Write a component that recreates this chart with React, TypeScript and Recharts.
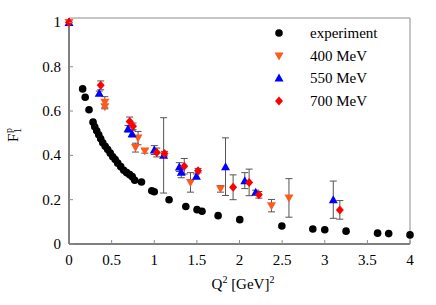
import React from 'react';
import { ScatterChart, Scatter, XAxis, YAxis, ErrorBar, Legend } from 'recharts';

// ---- data ----
const expQ2 = [0.16, 0.19, 0.235, 0.282, 0.302, 0.325, 0.349, 0.372, 0.396, 0.425, 0.454, 0.484, 0.513, 0.542, 0.572, 0.607, 0.642, 0.677, 0.712, 0.742, 0.771, 0.85, 0.971, 1.0, 1.174, 1.37, 1.502, 1.56, 1.749, 2.003, 2.497, 2.86, 3.0, 3.25, 3.62, 3.75, 4.0];
const expF = [0.70, 0.662, 0.606, 0.550, 0.529, 0.511, 0.493, 0.475, 0.457, 0.441, 0.426, 0.410, 0.394, 0.381, 0.365, 0.349, 0.333, 0.322, 0.313, 0.304, 0.288, 0.280, 0.240, 0.236, 0.200, 0.169, 0.155, 0.148, 0.128, 0.110, 0.081, 0.068, 0.064, 0.058, 0.049, 0.047, 0.041];

const q400 = [0, 0.42, 0.42, 0.81, 0.78, 0.89, 1.425, 1.777, 2.375, 2.58];
const f400 = [1.0, 0.64, 0.62, 0.478, 0.435, 0.42, 0.278, 0.249, 0.173, 0.208];
const e400 = [0, 0.025, 0.01, 0.03, 0.02, 0.01, 0.044, 0.015, 0.028, 0.087];

const q550 = [0, 0.355, 0.693, 0.74, 1.0, 1.11, 1.294, 1.317, 1.495, 1.836, 2.062, 2.19, 3.10];
const f550 = [1.0, 0.68, 0.52, 0.498, 0.424, 0.40, 0.347, 0.324, 0.306, 0.349, 0.286, 0.233, 0.20];
const e550 = [0, 0.01, 0.015, 0.015, 0.02, 0.17, 0.02, 0.025, 0.01, 0.13, 0.036, 0.01, 0.084];

const q700 = [0, 0.372, 0.712, 0.751, 1.03, 1.12, 1.352, 1.514, 1.925, 2.113, 2.227, 3.177];
const f700 = [1.0, 0.716, 0.553, 0.531, 0.413, 0.408, 0.351, 0.331, 0.256, 0.278, 0.222, 0.154];
const e700 = [0, 0.02, 0.02, 0.015, 0.02, 0.01, 0.035, 0.01, 0.056, 0.06, 0.015, 0.042];

const seriesNames = ['experiment', '400 MeV', '550 MeV', '700 MeV'];
const xTicks = [0, 0.5, 1, 1.5, 2, 2.5, 3, 3.5, 4];
const xTickLabels = ['0', '0.5', '1', '1.5', '2', '2.5', '3', '3.5', '4'];
const yTicks = [0, 0.2, 0.4, 0.6, 0.8, 1];
const yTickLabels = ['0', '0.2', '0.4', '0.6', '0.8', '1'];

const expData = expQ2.map((x, i) => ({ x, y: expF[i] }));
const d400 = q400.map((x, i) => ({ x, y: f400[i], e: e400[i] }));
const d550 = q550.map((x, i) => ({ x, y: f550[i], e: e550[i] }));
const d700 = q700.map((x, i) => ({ x, y: f700[i], e: e700[i] }));

const FONT = '"Liberation Serif", "DejaVu Serif", serif';
const C_EXP = '#000000';
const C_400 = '#ff5a1e';
const C_550 = '#0000ff';
const C_700 = '#ff0000';
const GRAY = '#8c8c8c';

const circleShape = (p: any) => <circle cx={p.cx} cy={p.cy} r={3.8} fill={C_EXP} />;
const downTri = (p: any, c = C_400) => (
  <polygon points={`${p.cx - 4.5},${p.cy - 3.5} ${p.cx + 4.5},${p.cy - 3.5} ${p.cx},${p.cy + 4.5}`} fill={c} />
);
const upTri = (p: any, c = C_550) => (
  <polygon points={`${p.cx - 4.5},${p.cy + 3.5} ${p.cx + 4.5},${p.cy + 3.5} ${p.cx},${p.cy - 4.5}`} fill={c} />
);
const diamond = (p: any, c = C_700) => (
  <polygon points={`${p.cx},${p.cy - 4.5} ${p.cx + 4},${p.cy} ${p.cx},${p.cy + 4.5} ${p.cx - 4},${p.cy}`} fill={c} />
);

const BottomTick = (p: any) => {
  const i = xTicks.indexOf(p.payload.value);
  return (
    <g>
      <line x1={p.x} y1={p.y} x2={p.x} y2={p.y - 4} stroke={GRAY} />
      <text x={p.x} y={p.y + 21} textAnchor="middle" fontFamily={FONT} fontSize={15} fill="#000">
        {xTickLabels[i]}
      </text>
    </g>
  );
};
const TopTick = (p: any) => <line x1={p.x} y1={p.y} x2={p.x} y2={p.y + 4} stroke={GRAY} />;
const LeftTick = (p: any) => {
  const i = yTicks.indexOf(p.payload.value);
  return (
    <g>
      <line x1={p.x} y1={p.y} x2={p.x + 4} y2={p.y} stroke={GRAY} />
      <text x={p.x - 8} y={p.y + 5} textAnchor="end" fontFamily={FONT} fontSize={15} fill="#000">
        {yTickLabels[i]}
      </text>
    </g>
  );
};
const RightTick = (p: any) => <line x1={p.x} y1={p.y} x2={p.x - 4} y2={p.y} stroke={GRAY} />;

const legendShapes = [
  (cx: number, cy: number) => <circle cx={cx} cy={cy} r={3.8} fill={C_EXP} />,
  (cx: number, cy: number) => downTri({ cx, cy }),
  (cx: number, cy: number) => upTri({ cx, cy }),
  (cx: number, cy: number) => diamond({ cx, cy }),
];

const LegendContent = () => (
  <div style={{ fontFamily: FONT, fontSize: 15, color: '#000' }}>
    {seriesNames.map((n, i) => (
      <div key={n} style={{ display: 'flex', alignItems: 'center', height: 22.5 }}>
        <svg width={18} height={18} style={{ display: 'block' }}>
          {legendShapes[i](9, 9)}
        </svg>
        <span style={{ marginLeft: 22, lineHeight: '22.5px', whiteSpace: 'nowrap' }}>{n}</span>
      </div>
    ))}
  </div>
);

export default function App() {
  return (
    <div style={{ position: 'absolute', left: 0, top: 0, width: 436, height: 305, background: '#fff' }}>
      <ScatterChart width={436} height={305} margin={{ top: 12, right: 20, bottom: 31, left: 29 }}>
        <XAxis
          dataKey="x"
          type="number"
          domain={[0, 4]}
          ticks={xTicks}
          interval={0}
          height={30}
          tickSize={0}
          tickMargin={0}
          tick={BottomTick}
          tickLine={false}
          axisLine={{ stroke: '#000' }}
        />
        <XAxis
          xAxisId="top"
          orientation="top"
          type="number"
          domain={[0, 4]}
          ticks={xTicks}
          interval={0}
          height={6}
          tickSize={0}
          tickMargin={0}
          tick={TopTick}
          tickLine={false}
          axisLine={{ stroke: GRAY }}
        />
        <YAxis
          dataKey="y"
          type="number"
          domain={[0, 1.02]}
          ticks={yTicks}
          interval={0}
          width={40}
          tickSize={0}
          tickMargin={0}
          tick={LeftTick}
          tickLine={false}
          axisLine={{ stroke: '#000' }}
        />
        <YAxis
          yAxisId="right"
          orientation="right"
          type="number"
          domain={[0, 1.02]}
          ticks={yTicks}
          interval={0}
          width={6}
          tickSize={0}
          tickMargin={0}
          tick={RightTick}
          tickLine={false}
          axisLine={{ stroke: GRAY }}
        />
        <Legend
          layout="vertical"
          align="center"
          verticalAlign="middle"
          content={LegendContent}
          wrapperStyle={{ left: 270, top: 22, width: 150 }}
        />
        <Scatter name="experiment" data={expData} shape={circleShape} isAnimationActive={false} />
        <Scatter name="400 MeV" data={d400} shape={(p: any) => downTri(p)} isAnimationActive={false}>
          <ErrorBar dataKey="e" direction="y" width={3.5} stroke="#555" strokeWidth={1} />
        </Scatter>
        <Scatter name="550 MeV" data={d550} shape={(p: any) => upTri(p)} isAnimationActive={false}>
          <ErrorBar dataKey="e" direction="y" width={3.5} stroke="#555" strokeWidth={1} />
        </Scatter>
        <Scatter name="700 MeV" data={d700} shape={(p: any) => diamond(p)} isAnimationActive={false}>
          <ErrorBar dataKey="e" direction="y" width={3.5} stroke="#555" strokeWidth={1} />
        </Scatter>
        <g transform="translate(17.5,142) rotate(-90)">
          <text x={0} y={0} fontFamily={FONT} fontSize={15} fill="#000">F</text>
          <text x={9} y={-6} fontFamily={FONT} fontSize={10} fill="#000">p</text>
          <text x={9} y={3} fontFamily={FONT} fontSize={10} fill="#000">1</text>
        </g>
        <text x={243} y={289} textAnchor="middle" fontFamily={FONT} fontSize={15} fill="#000">
          Q<tspan dy={-6} fontSize={10}>2</tspan>
          <tspan dy={6}> [GeV]</tspan>
          <tspan dy={-6} fontSize={10}>2</tspan>
        </text>
      </ScatterChart>
    </div>
  );
}
